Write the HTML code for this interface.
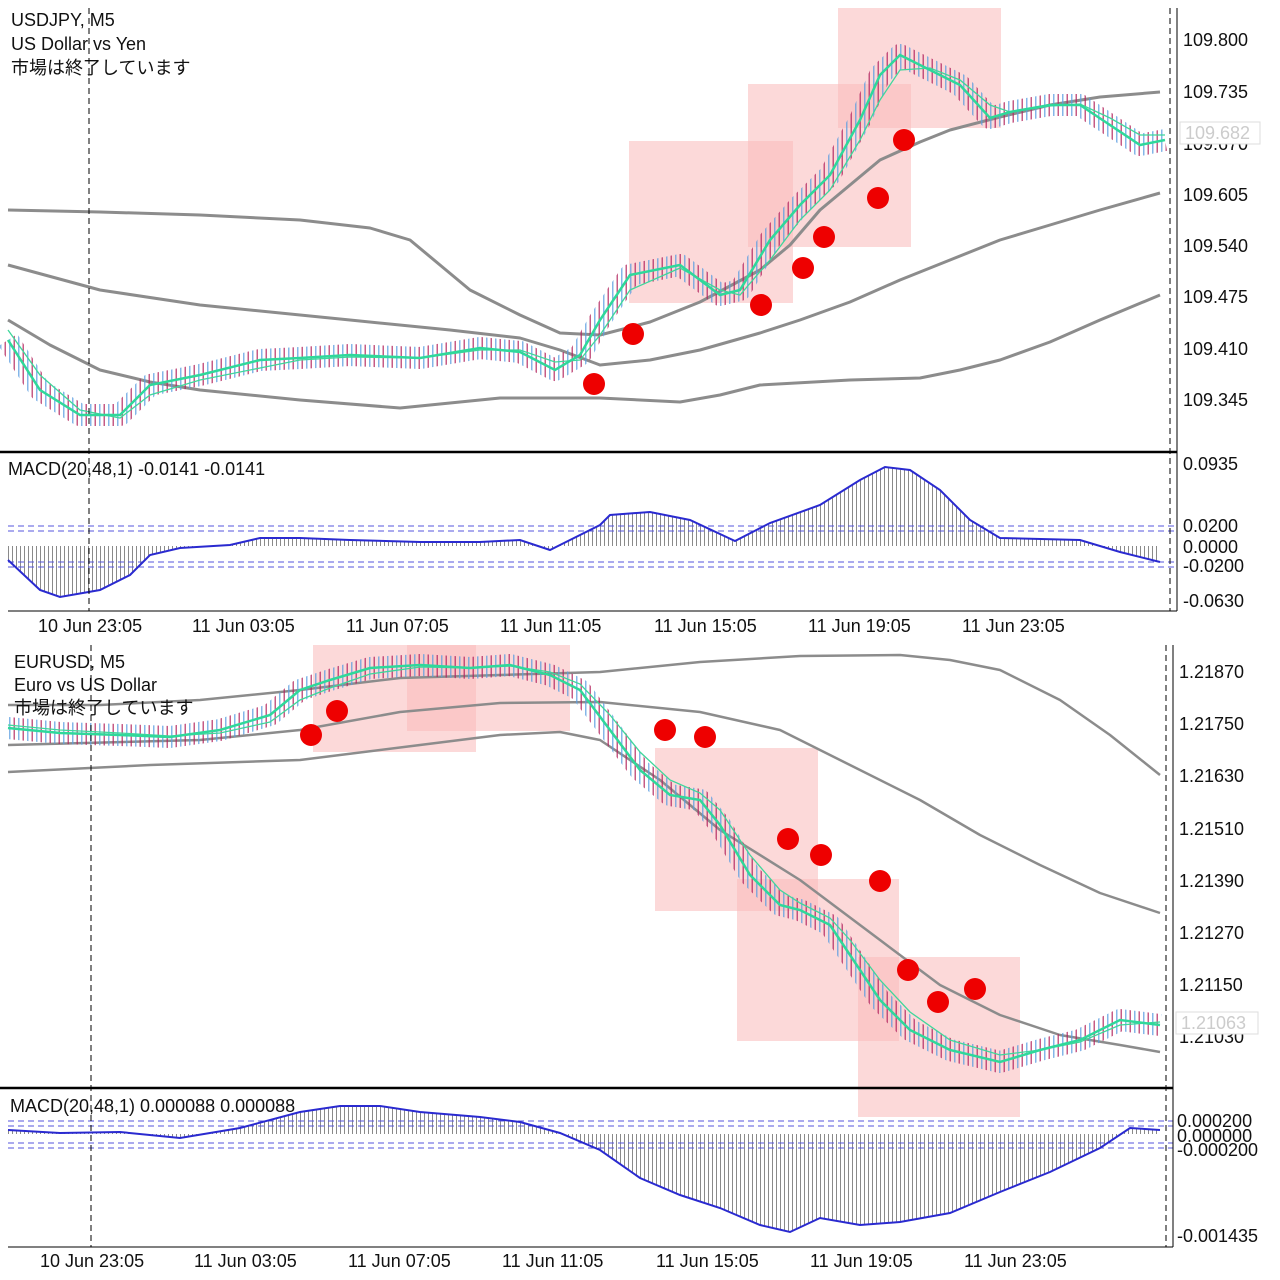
<!DOCTYPE html>
<html><head><meta charset="utf-8"><style>
html,body{margin:0;padding:0;background:#fff;}
svg{display:block;}
text{font-family:"Liberation Sans","Noto Sans CJK JP",sans-serif;fill:#111;}
</style></head><body>
<svg width="1280" height="1280" viewBox="0 0 1280 1280" xmlns="http://www.w3.org/2000/svg">
<defs>
<pattern id="cdl" width="9" height="40" patternUnits="userSpaceOnUse">
<rect x="0" y="0" width="1.5" height="40" fill="#5b9de0"/>
<rect x="4.5" y="0" width="1.5" height="40" fill="#b3245e"/>
</pattern>
<pattern id="hist" width="4" height="10" patternUnits="userSpaceOnUse">
<rect x="0" y="0" width="1" height="10" fill="#8a8a8a"/>
</pattern>
</defs>

<!-- ================= TOP CHART ================= -->
<g fill="#f9b9b9" fill-opacity="0.55">
<rect x="629" y="141" width="164" height="162"/>
<rect x="748" y="84" width="163" height="163"/>
<rect x="838" y="8" width="163" height="120"/>
</g>
<g fill="none" stroke="#8c8c8c" stroke-width="3" stroke-linejoin="round">
<polyline points="8,210 100,212 200,215 300,220 370,228 410,240 440,265 470,290 520,315 560,333 600,335 650,322 700,302 760,270 790,245 820,210 850,185 880,160 920,142 950,130 1000,117 1050,105 1100,97 1160,92"/>
<polyline points="8,265 100,290 200,305 350,320 450,330 520,338 560,350 600,365 650,360 700,350 760,333 800,320 850,302 900,280 950,260 1000,240 1050,225 1100,210 1160,193"/>
<polyline points="8,320 50,345 100,370 150,382 200,390 300,400 400,408 500,398 600,398 680,402 720,395 760,385 850,380 920,378 960,370 1000,360 1050,342 1100,320 1160,295"/>
</g>
<polyline fill="none" stroke="url(#cdl)" stroke-width="22" stroke-opacity="0.75" stroke-linejoin="round" points="8,340 40,390 80,415 120,415 150,385 200,375 260,360 300,358 350,355 420,358 480,348 520,352 555,370 580,355 600,320 630,275 680,265 720,295 740,290 770,240 800,205 830,175 860,120 880,75 900,55 930,70 960,85 990,118 1010,112 1050,105 1080,105 1110,125 1140,145 1165,140"/>
<polyline fill="none" stroke="#3fd79b" stroke-width="1.3" points="8,330 40,375 80,410 120,418 150,395 200,380 260,368 300,360 350,357 420,358 480,350 520,350 555,362 580,360 600,335 630,290 680,268 720,290 740,295 770,260 800,220 830,190 860,140 880,100 900,70 930,68 960,80 990,105 1010,112 1050,106 1080,104 1110,118 1140,135 1165,135"/>
<polyline fill="none" stroke="#2fd89a" stroke-width="2.5" points="8,340 40,390 80,415 120,415 150,385 200,375 260,360 300,358 350,355 420,358 480,348 520,352 555,370 580,355 600,320 630,275 680,265 720,295 740,290 770,240 800,205 830,175 860,120 880,75 900,55 930,70 960,85 990,118 1010,112 1050,105 1080,105 1110,125 1140,145 1165,140"/>
<g fill="#ee0000">
<circle cx="594" cy="384" r="11"/><circle cx="633" cy="334" r="11"/><circle cx="761" cy="305" r="11"/>
<circle cx="803" cy="268" r="11"/><circle cx="824" cy="237" r="11"/><circle cx="878" cy="198" r="11"/><circle cx="904" cy="140" r="11"/>
</g>
<text x="11" y="26" font-size="18">USDJPY, M5</text>
<text x="11" y="50" font-size="18">US Dollar vs Yen</text>
<text x="11" y="74" font-size="18">市場は終了しています</text>

<!-- top MACD -->
<polygon fill="url(#hist)" points="8,546 8,560 40,590 60,597 100,590 130,575 150,555 180,548 230,545 260,538 300,538 350,540 420,542 480,542 520,540 550,550 560,545 600,525 610,515 650,512 690,520 735,541 770,523 820,505 860,480 885,467 910,470 940,490 970,520 1000,538 1080,540 1120,552 1160,562 1160,546"/>
<g stroke="#5555dd" stroke-width="1" stroke-dasharray="6,4">
<line x1="8" y1="526" x2="1177" y2="526"/><line x1="8" y1="531" x2="1177" y2="531"/>
<line x1="8" y1="562" x2="1177" y2="562"/><line x1="8" y1="567" x2="1177" y2="567"/>
</g>
<polyline fill="none" stroke="#2a2ad0" stroke-width="2" points="8,560 40,590 60,597 100,590 130,575 150,555 180,548 230,545 260,538 300,538 350,540 420,542 480,542 520,540 550,550 560,545 600,525 610,515 650,512 690,520 735,541 770,523 820,505 860,480 885,467 910,470 940,490 970,520 1000,538 1080,540 1120,552 1160,562"/>
<text x="8" y="475" font-size="18">MACD(20,48,1) -0.0141 -0.0141</text>

<line x1="0" y1="452" x2="1177" y2="452" stroke="#000" stroke-width="2.5"/>
<line x1="8" y1="611" x2="1177" y2="611" stroke="#000" stroke-width="1"/>
<line x1="1177" y1="8" x2="1177" y2="611" stroke="#000" stroke-width="1"/>
<line x1="89" y1="8" x2="89" y2="611" stroke="#000" stroke-dasharray="6,4"/>
<line x1="1170" y1="8" x2="1170" y2="611" stroke="#000" stroke-dasharray="6,4"/>

<g font-size="18">
<text x="1183" y="46">109.800</text><text x="1183" y="98">109.735</text>
<text x="1183" y="150">109.670</text><text x="1183" y="201">109.605</text>
<text x="1183" y="252">109.540</text><text x="1183" y="303">109.475</text>
<text x="1183" y="355">109.410</text><text x="1183" y="406">109.345</text>
<text x="1183" y="470">0.0935</text>
<text x="1183" y="532">0.0200</text><text x="1183" y="553">0.0000</text>
<text x="1183" y="572">-0.0200</text>
<text x="1183" y="607">-0.0630</text>
</g>
<rect x="1180" y="122" width="80" height="22" fill="#fff" stroke="#ddd"/>
<text x="1185" y="139" font-size="18" style="fill:#ccc">109.682</text>
<g font-size="18">
<text x="38" y="632">10 Jun 23:05</text><text x="192" y="632">11 Jun 03:05</text>
<text x="346" y="632">11 Jun 07:05</text><text x="500" y="632">11 Jun 11:05</text>
<text x="654" y="632">11 Jun 15:05</text><text x="808" y="632">11 Jun 19:05</text>
<text x="962" y="632">11 Jun 23:05</text>
</g>

<!-- ================= BOTTOM CHART ================= -->
<g fill="#f9b9b9" fill-opacity="0.55">
<rect x="313" y="645" width="163" height="107"/>
<rect x="407" y="645" width="163" height="86"/>
<rect x="655" y="748" width="163" height="163"/>
<rect x="737" y="879" width="162" height="162"/>
<rect x="858" y="957" width="162" height="160"/>
</g>
<g fill="none" stroke="#8c8c8c" stroke-width="2.5" stroke-linejoin="round">
<polyline points="8,705 100,705 200,700 300,690 400,678 500,675 600,672 700,662 800,656 900,655 950,660 1000,670 1060,700 1110,735 1160,775"/>
<polyline points="8,745 200,740 300,730 400,712 500,703 600,702 700,712 780,730 850,765 920,800 980,835 1040,865 1100,893 1160,913"/>
<polyline points="8,772 150,765 300,760 420,745 500,735 560,732 600,740 660,780 720,830 800,880 880,940 940,985 1000,1015 1060,1035 1120,1045 1160,1052"/>
</g>
<polyline fill="none" stroke="url(#cdl)" stroke-width="22" stroke-opacity="0.75" stroke-linejoin="round" points="8,728 60,733 120,735 170,737 220,730 270,715 300,690 330,680 370,668 420,665 470,668 510,665 550,675 580,690 610,730 640,770 670,795 700,800 720,825 750,875 780,905 800,910 830,925 850,955 880,1000 910,1030 950,1050 1000,1062 1040,1050 1080,1040 1120,1020 1160,1025"/>
<polyline fill="none" stroke="#3fd79b" stroke-width="1.3" points="8,725 60,730 120,733 170,736 220,733 270,722 300,700 330,688 370,674 420,667 470,668 510,666 550,672 580,684 610,715 640,752 670,780 700,793 720,810 750,855 780,890 800,903 830,918 850,940 880,980 910,1012 950,1040 1000,1055 1040,1050 1080,1042 1120,1025 1160,1022"/>
<polyline fill="none" stroke="#2fd89a" stroke-width="2.5" points="8,728 60,733 120,735 170,737 220,730 270,715 300,690 330,680 370,668 420,665 470,668 510,665 550,675 580,690 610,730 640,770 670,795 700,800 720,825 750,875 780,905 800,910 830,925 850,955 880,1000 910,1030 950,1050 1000,1062 1040,1050 1080,1040 1120,1020 1160,1025"/>
<g fill="#ee0000">
<circle cx="311" cy="735" r="11"/><circle cx="337" cy="711" r="11"/><circle cx="665" cy="730" r="11"/>
<circle cx="705" cy="737" r="11"/><circle cx="788" cy="839" r="11"/><circle cx="821" cy="855" r="11"/>
<circle cx="880" cy="881" r="11"/><circle cx="908" cy="970" r="11"/><circle cx="938" cy="1002" r="11"/><circle cx="975" cy="989" r="11"/>
</g>
<text x="14" y="668" font-size="18">EURUSD, M5</text>
<text x="14" y="691" font-size="18">Euro vs US Dollar</text>
<text x="14" y="714" font-size="18">市場は終了しています</text>

<!-- bottom MACD -->
<polygon fill="url(#hist)" points="8,1134 8,1130 60,1133 120,1132 180,1138 240,1128 300,1112 340,1106 380,1106 420,1112 480,1117 520,1122 560,1133 600,1150 640,1178 680,1195 720,1208 760,1225 790,1232 820,1218 860,1225 900,1222 950,1213 1000,1192 1050,1172 1100,1148 1130,1128 1160,1130 1160,1134"/>
<g stroke="#5555dd" stroke-width="1" stroke-dasharray="6,4">
<line x1="8" y1="1121" x2="1173" y2="1121"/><line x1="8" y1="1126" x2="1173" y2="1126"/>
<line x1="8" y1="1143" x2="1173" y2="1143"/><line x1="8" y1="1148" x2="1173" y2="1148"/>
</g>
<polyline fill="none" stroke="#2a2ad0" stroke-width="2" points="8,1130 60,1133 120,1132 180,1138 240,1128 300,1112 340,1106 380,1106 420,1112 480,1117 520,1122 560,1133 600,1150 640,1178 680,1195 720,1208 760,1225 790,1232 820,1218 860,1225 900,1222 950,1213 1000,1192 1050,1172 1100,1148 1130,1128 1160,1130"/>
<text x="10" y="1112" font-size="18">MACD(20,48,1) 0.000088 0.000088</text>

<line x1="0" y1="1088" x2="1173" y2="1088" stroke="#000" stroke-width="2.5"/>
<line x1="8" y1="1247" x2="1173" y2="1247" stroke="#000" stroke-width="1"/>
<line x1="1173" y1="645" x2="1173" y2="1247" stroke="#000" stroke-width="1"/>
<line x1="91" y1="645" x2="91" y2="1247" stroke="#000" stroke-dasharray="6,4"/>
<line x1="1166" y1="645" x2="1166" y2="1247" stroke="#000" stroke-dasharray="6,4"/>

<g font-size="18">
<text x="1179" y="678">1.21870</text><text x="1179" y="730">1.21750</text>
<text x="1179" y="782">1.21630</text><text x="1179" y="835">1.21510</text>
<text x="1179" y="887">1.21390</text><text x="1179" y="939">1.21270</text>
<text x="1179" y="991">1.21150</text><text x="1179" y="1043">1.21030</text>
<text x="1177" y="1127">0.000200</text><text x="1177" y="1142">0.000000</text>
<text x="1177" y="1156">-0.000200</text>
<text x="1177" y="1242">-0.001435</text>
</g>
<rect x="1176" y="1012" width="82" height="22" fill="#fff" stroke="#ddd"/>
<text x="1181" y="1029" font-size="18" style="fill:#ccc">1.21063</text>
<g font-size="18">
<text x="40" y="1267">10 Jun 23:05</text><text x="194" y="1267">11 Jun 03:05</text>
<text x="348" y="1267">11 Jun 07:05</text><text x="502" y="1267">11 Jun 11:05</text>
<text x="656" y="1267">11 Jun 15:05</text><text x="810" y="1267">11 Jun 19:05</text>
<text x="964" y="1267">11 Jun 23:05</text>
</g>
</svg>
</body></html>
